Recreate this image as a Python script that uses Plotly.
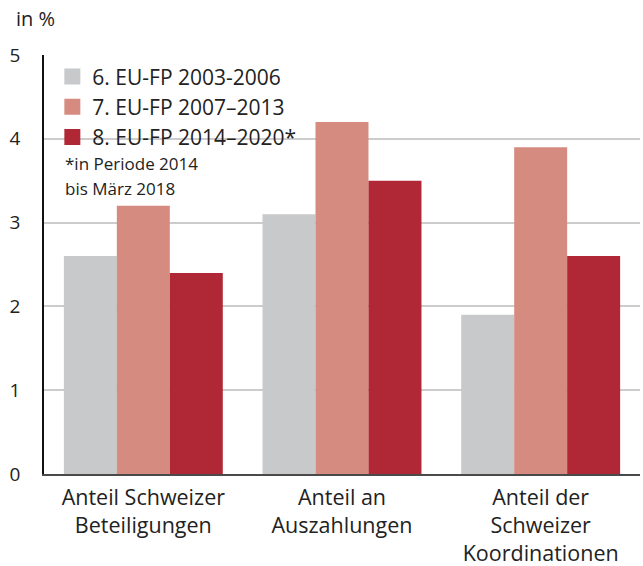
import plotly.graph_objects as go

categories = ["Anteil Schweizer<br>Beteiligungen", "Anteil an<br>Auszahlungen", "Anteil der<br>Schweizer<br>Koordinationen"]
series_names = ["6. EU-FP 2003-2006", "7. EU-FP 2007–2013", "8. EU-FP 2014–2020*"]
fp6 = [2.6, 3.1, 1.9]
fp7 = [3.2, 4.2, 3.9]
fp8 = [2.4, 3.5, 2.6]
colors = ["#c8c9cb", "#d58b80", "#b02735"]
y_ticks = [0, 1, 2, 3, 4, 5]
note_lines = ["*in Periode 2014", "bis März 2018"]

FONT = "Open Sans"

fig = go.Figure()
for name, vals, col in zip(series_names, [fp6, fp7, fp8], colors):
    fig.add_trace(go.Bar(x=categories, y=vals, name=name, showlegend=False,
                         marker=dict(color=col, line=dict(width=0))))
for name, col in zip(series_names, colors):
    fig.add_trace(go.Scatter(x=[None], y=[None], name=name, mode="markers",
                             marker=dict(symbol="square", size=16, color=col)))

fig.update_layout(
    width=643, height=566,
    margin=dict(l=44, r=3, t=55, b=92),
    barmode="group", bargap=0.2, bargroupgap=0,
    plot_bgcolor="white", paper_bgcolor="white",
    font=dict(family=FONT, size=21, color="#222222"),
    legend=dict(x=0.014, y=0.997, xanchor="left", yanchor="top", bgcolor="rgba(0,0,0,0)",
                font=dict(size=21, family=FONT), tracegroupgap=0, itemwidth=30),
    xaxis=dict(showline=True, linecolor="#4a4a4a", linewidth=2, ticks="", tickfont=dict(size=21.5),
               ticklabelstandoff=3, automargin=False),
    yaxis=dict(range=[0, 5], tickvals=y_ticks, showgrid=True, gridcolor="#cccccc", gridwidth=1.5,
               showline=True, linecolor="#111111", linewidth=1.5, ticks="", zeroline=False,
               tickfont=dict(size=19), ticklabelstandoff=18, automargin=False),
    shapes=[dict(type="rect", xref="paper", yref="y", x0=0.03, x1=0.438, y0=3.96, y1=4.04,
                 fillcolor="white", line=dict(width=0), layer="below")],
    annotations=[
        dict(text="in %", xref="paper", yref="paper", x=-0.05, y=1.125, xanchor="left", yanchor="top",
             showarrow=False, font=dict(size=20, family=FONT)),
        dict(text=note_lines[0], xref="paper", yref="paper", x=0.032, y=0.742,
             xanchor="left", yanchor="middle", align="left", showarrow=False, font=dict(size=17, family=FONT)),
        dict(text=note_lines[1], xref="paper", yref="paper", x=0.032, y=0.681,
             xanchor="left", yanchor="middle", align="left", showarrow=False, font=dict(size=17, family=FONT)),
    ],
)
fig.write_html("out.html", config={"displayModeBar": False},
               post_script="document.body.style.margin='0';")
